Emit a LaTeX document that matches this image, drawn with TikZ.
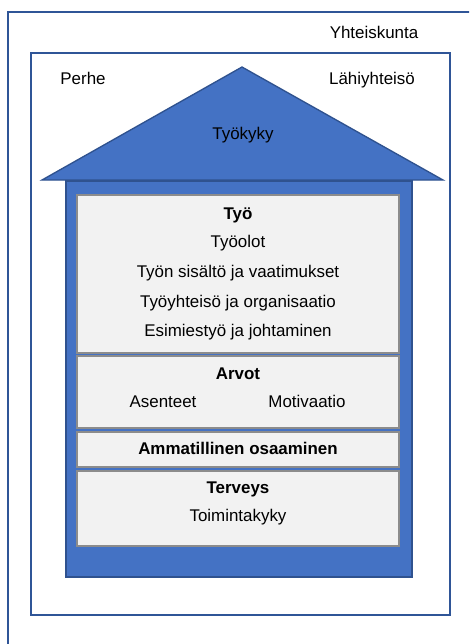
\documentclass[tikz,border=0pt]{standalone}
\usepackage{fontspec}
\setmainfont{Liberation Sans}
\usepackage{tikz}
\usetikzlibrary{calc}

\definecolor{frameblue}{HTML}{2F5597}
\definecolor{housefill}{HTML}{4472C4}
\definecolor{houseline}{HTML}{2F528F}
\definecolor{boxfill}{HTML}{F2F2F2}
\definecolor{boxline}{HTML}{8C8C8C}

\tikzset{
	frame/.style={draw=frameblue,line width=1.5pt},
	house/.style={fill=housefill,draw=houseline,line width=1pt},
	layer/.style={fill=boxfill,draw=boxline,line width=1.2pt},
	txt/.style={font=\fontsize{12.7}{15}\selectfont,inner sep=0pt,text height=9.2pt,text depth=2.6pt},
	head/.style={txt,font=\fontsize{12.7}{15}\selectfont\bfseries}
}

\begin{document}
\begin{tikzpicture}[x=0.75pt,y=-0.75pt]
			\clip(0,0)rectangle(469,644);
			\fill[white](0,0)rectangle(469,644);
			% society and close community
			\draw[frame](8,12)rectangle(490,670);
			\draw[frame](31,53)rectangle(450,615);
			\node[txt](yht)at(374,34){Yhteiskunta};
			\node[txt](per)at(83,80){Perhe};
			\node[txt](lah)at(372,80){Lähiyhteisö};
			% the house
			\draw[house](42,180)--(242,67)--(443,180)--cycle;
			\draw[house](66,181)rectangle(412,577);
			\node[txt](tk)at(243,135){Työkyky};
			% floors
			\draw[layer](77,195)rectangle(399,353);
			\draw[layer](77,356)rectangle(399,428);
			\draw[layer](77,432)rectangle(399,467);
			\draw[layer](77,471)rectangle(399,546);
			\node[head](tyo)at(238,215){Työ};
			\node[txt](tyo1)at(238,243){Työolot};
			\node[txt](tyo2)at(238,273){Työn sisältö ja vaatimukset};
			\node[txt](tyo3)at(238,303){Työyhteisö ja organisaatio};
			\node[txt](tyo4)at(238,332){Esimiestyö ja johtaminen};
			\node[head](arv)at(238,375){Arvot};
			\node[txt](ase)at(163,403){Asenteet};
			\node[txt](mot)at(307,403){Motivaatio};
			\node[head](amm)at(238,450){Ammatillinen osaaminen};
			\node[head](ter)at(238,489){Terveys};
			\node[txt](toi)at(238,517){Toimintakyky};
		\end{tikzpicture}
\end{document}
